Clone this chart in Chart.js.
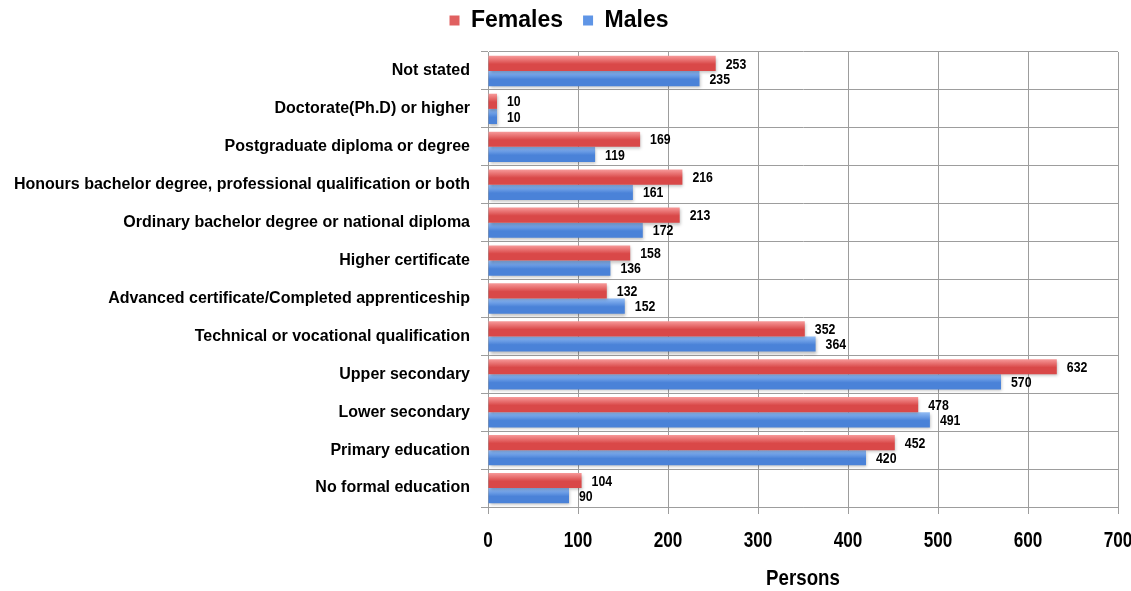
<!DOCTYPE html>
<html>
<head>
<meta charset="utf-8">
<script src="https://cdn.jsdelivr.net/npm/chart.js@4.4.1/dist/chart.umd.min.js"></script>
<style>
  body { margin: 0; background: #fff; }
  #wrap { width: 1131px; height: 591px; }
</style>
</head>
<body>
<div id="wrap"><canvas id="myChart" width="1131" height="591"></canvas></div>
<script>
  var categories = ["Not stated", "Doctorate(Ph.D) or higher", "Postgraduate diploma or degree",
    "Honours bachelor degree, professional qualification or both", "Ordinary bachelor degree or national diploma",
    "Higher certificate", "Advanced certificate/Completed apprenticeship", "Technical or vocational qualification",
    "Upper secondary", "Lower secondary", "Primary education", "No formal education"];
  var females = [253, 10, 169, 216, 213, 158, 132, 352, 632, 478, 452, 104];
  var males = [235, 10, 119, 161, 172, 136, 152, 364, 570, 491, 420, 90];
  var xTicks = [0, 100, 200, 300, 400, 500, 600, 700];

  var font = "'Liberation Sans', Arial, Helvetica, sans-serif";
  var gridColor = "#9d9d9d";

  // top/bottom colours of each bar's shading
  var shades = [["#f79a9a", "#d94848"], ["#93bdf5", "#4a82d8"]];

  var barGradient = function(context) {
    var chart = context.chart;
    var yScale = chart.scales.y;
    if (!yScale || yScale.top === undefined) return shades[context.datasetIndex][1];
    var center = yScale.getPixelForValue(context.dataIndex);
    var band = (yScale.bottom - yScale.top) / categories.length;
    var half = band * 0.8 / 2;
    var top = context.datasetIndex === 0 ? center - half : center;
    var g = chart.ctx.createLinearGradient(0, top, 0, top + half);
    var c = shades[context.datasetIndex];
    g.addColorStop(0, c[0]);
    g.addColorStop(0.55, c[1]);
    g.addColorStop(1, c[1]);
    return g;
  };

  // narrow bold text: squeeze horizontally around the anchor point
  var narrowText = function(ctx, text, x, y, size, squeeze) {
    ctx.save();
    ctx.font = "bold " + size + "px " + font;
    ctx.translate(x, y);
    ctx.scale(squeeze, 1);
    ctx.fillText(text, 0, 0);
    ctx.restore();
  };

  // more room under the legend
  var legendGap = {
    id: 'legendGap',
    afterInit: function(chart) {
      var fit = chart.legend.fit;
      chart.legend.fit = function() {
        fit.apply(this, arguments);
        this.height += 10;
      };
    }
  };

  // soft shadow under the bars
  var barShadow = {
    id: 'barShadow',
    beforeDatasetsDraw: function(chart) {
      var ctx = chart.ctx;
      ctx.save();
      ctx.shadowColor = "rgba(0,0,0,0.25)";
      ctx.shadowBlur = 3;
      ctx.shadowOffsetX = 1;
      ctx.shadowOffsetY = 2;
    },
    afterDatasetsDraw: function(chart) {
      chart.ctx.restore();
    }
  };

  // numbers at the end of every bar, plus the x tick numbers and axis title
  var valueLabels = {
    id: 'valueLabels',
    afterDatasetsDraw: function(chart) {
      var ctx = chart.ctx;
      ctx.save();
      ctx.fillStyle = "#000";
      ctx.textBaseline = "middle";
      ctx.textAlign = "left";
      chart.data.datasets.forEach(function(ds, di) {
        chart.getDatasetMeta(di).data.forEach(function(bar, i) {
          narrowText(ctx, ds.data[i], bar.x + 10, bar.y + 1, 15, 0.82);
        });
      });
      ctx.restore();
    },
    afterDraw: function(chart) {
      var ctx = chart.ctx;
      var xs = chart.scales.x;
      ctx.save();
      ctx.fillStyle = "#000";
      ctx.textBaseline = "middle";
      ctx.textAlign = "center";
      xTicks.forEach(function(v) {
        narrowText(ctx, v, xs.getPixelForValue(v), xs.top + 34, 22, 0.78);
      });
      narrowText(ctx, "Persons", (xs.left + xs.right) / 2, xs.top + 72, 22, 0.85);
      ctx.restore();
    }
  };

  var ctx = document.getElementById("myChart").getContext('2d');
  var myChart = new Chart(ctx, {
    type: 'bar',
    data: {
      labels: categories,
      datasets: [
        { label: "Females", data: females, backgroundColor: barGradient, legendColor: "#e06060" },
        { label: "Males", data: males, backgroundColor: barGradient, legendColor: "#5f95e6" }
      ]
    },
    options: {
      indexAxis: 'y',
      responsive: false,
      animation: false,
      categoryPercentage: 0.8,
      barPercentage: 1,
      layout: { padding: { left: 0, right: 13, top: -11, bottom: 0 } },
      plugins: {
        tooltip: { enabled: false },
        legend: {
          position: 'top',
          labels: {
            boxWidth: 10,
            boxHeight: 10,
            padding: 20,
            color: "#000",
            font: { family: font, size: 23, weight: 'bold' },
            generateLabels: function(chart) {
              return chart.data.datasets.map(function(ds, i) {
                return { text: ds.label, fillStyle: ds.legendColor, strokeStyle: ds.legendColor, lineWidth: 0, datasetIndex: i };
              });
            }
          }
        }
      },
      scales: {
        x: {
          min: 0,
          max: 700,
          afterBuildTicks: function(axis) {
            axis.ticks = xTicks.map(function(v) { return { value: v }; });
          },
          afterFit: function(axis) {
            axis.height = 84;
            axis.paddingLeft = 0;
            axis.paddingRight = 0;
          },
          grid: { color: gridColor, tickLength: 7, tickColor: gridColor },
          border: { color: gridColor },
          ticks: { display: false }
        },
        y: {
          afterFit: function(axis) { axis.width = 488; },
          grid: { color: gridColor, tickLength: 7, tickColor: gridColor },
          border: { color: gridColor },
          ticks: { color: "#000", padding: 11, autoSkip: false, font: { family: font, size: 16, weight: 'bold' } }
        }
      }
    },
    plugins: [legendGap, barShadow, valueLabels]
  });
</script>
</body>
</html>
